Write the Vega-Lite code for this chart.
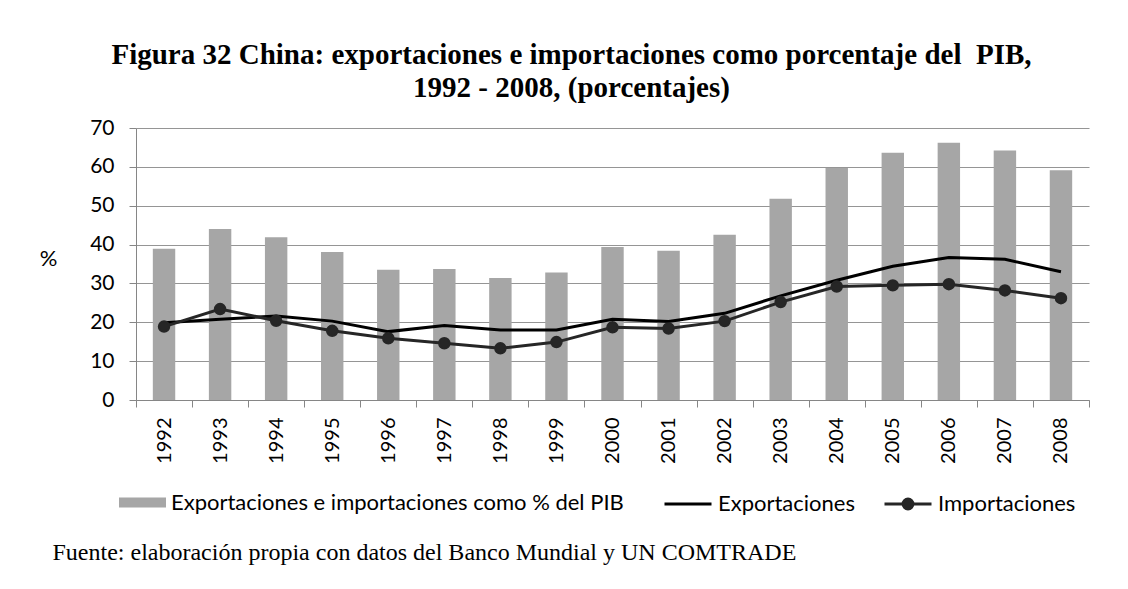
{
  "$schema": "https://vega.github.io/schema/vega-lite/v6.json",
  "width": 953,
  "height": 272,
  "autosize": {"type": "none"},
  "padding": {"left": 136, "top": 128, "right": 39, "bottom": 189},
  "background": "white",
  "title": {
    "text": ["Figura 32 China: exportaciones e importaciones como porcentaje del\u00a0 PIB,", "1992 - 2008, (porcentajes)"],
    "anchor": "middle",
    "dx": -41,
    "offset": 14,
    "font": "Liberation Serif",
    "fontSize": 29,
    "fontWeight": "bold",
    "color": "#000000",
    "lineHeight": 33
  },
  "data": {
    "values": [
      {"year": "1992", "total": 38.9, "exp": 19.9, "imp": 18.9},
      {"year": "1993", "total": 44.0, "exp": 20.8, "imp": 23.4},
      {"year": "1994", "total": 41.9, "exp": 21.6, "imp": 20.4},
      {"year": "1995", "total": 38.1, "exp": 20.3, "imp": 17.8},
      {"year": "1996", "total": 33.5, "exp": 17.6, "imp": 15.9},
      {"year": "1997", "total": 33.7, "exp": 19.2, "imp": 14.6},
      {"year": "1998", "total": 31.4, "exp": 18.0, "imp": 13.3},
      {"year": "1999", "total": 32.8, "exp": 18.0, "imp": 14.9},
      {"year": "2000", "total": 39.4, "exp": 20.8, "imp": 18.7},
      {"year": "2001", "total": 38.4, "exp": 20.2, "imp": 18.4},
      {"year": "2002", "total": 42.5, "exp": 22.3, "imp": 20.3},
      {"year": "2003", "total": 51.8, "exp": 26.8, "imp": 25.2},
      {"year": "2004", "total": 59.7, "exp": 30.8, "imp": 29.2},
      {"year": "2005", "total": 63.6, "exp": 34.4, "imp": 29.5},
      {"year": "2006", "total": 66.2, "exp": 36.7, "imp": 29.8},
      {"year": "2007", "total": 64.2, "exp": 36.2, "imp": 28.2},
      {"year": "2008", "total": 59.1, "exp": 33.0, "imp": 26.2}
    ]
  },
  "encoding": {
    "x": {
      "field": "year",
      "type": "ordinal",
      "scale": {"paddingInner": 0, "paddingOuter": 0},
      "axis": {
        "tickBand": "extent",
        "labelAngle": -90,
        "labelPadding": 10,
        "labelFont": "Lato",
        "labelFontSize": 20,
        "labelColor": "#000000",
        "domainColor": "#868686",
        "tickColor": "#868686",
        "tickSize": 7,
        "grid": false,
        "title": "Fuente: elaboración propia con datos del Banco Mundial y UN COMTRADE",
        "titleX": -84,
        "titleY": 159,
        "titleAlign": "left",
        "titleBaseline": "alphabetic",
        "titleFont": "Liberation Serif",
        "titleFontSize": 24,
        "titleFontWeight": "normal",
        "titleColor": "#000000"
      }
    }
  },
  "layer": [
    {
      "mark": {"type": "bar", "width": {"band": 0.4}},
      "encoding": {
        "y": {
          "field": "total",
          "type": "quantitative",
          "title": "%",
          "scale": {"domain": [0, 70], "nice": false},
          "axis": {"values": [0, 10, 20, 30, 40, 50, 60, 70], "tickCount": 10}
        },
        "fill": {
          "datum": "Exportaciones e importaciones como % del PIB",
          "type": "nominal",
          "scale": {"range": ["#a6a6a6"]},
          "legend": {
            "title": null,
            "orient": "none",
            "legendX": -17,
            "legendY": 351,
            "symbolType": "M-1,-0.21L1,-0.21L1,0.21L-1,0.21Z",
            "symbolSize": 2209,
            "symbolStrokeWidth": 0
          }
        }
      }
    },
    {
      "mark": {"type": "line", "strokeWidth": 3},
      "encoding": {
        "y": {"field": "exp", "type": "quantitative", "title": "%", "axis": {"values": [0, 10, 20, 30, 40, 50, 60, 70], "tickCount": 10}},
        "stroke": {
          "datum": "Exportaciones",
          "type": "nominal",
          "scale": {"range": ["#000000"]},
          "legend": {
            "title": null,
            "orient": "none",
            "legendX": 527,
            "legendY": 351,
            "symbolType": "M-1,0L1,0",
            "symbolSize": 2209,
            "symbolStrokeWidth": 3
          }
        }
      }
    },
    {
      "mark": {"type": "line", "strokeWidth": 3, "point": {"filled": true, "size": 110, "color": "#262626"}},
      "encoding": {
        "y": {"field": "imp", "type": "quantitative", "title": "%", "axis": {"values": [0, 10, 20, 30, 40, 50, 60, 70], "tickCount": 10}},
        "stroke": {
          "datum": "Importaciones",
          "type": "nominal",
          "scale": {"range": ["#262626"]},
          "legend": {
            "title": null,
            "orient": "none",
            "legendX": 747,
            "legendY": 351,
            "symbolType": "M-1,0L1,0M-0.21,0A0.21,0.21 0 1,1 0.21,0A0.21,0.21 0 1,1 -0.21,0Z",
            "symbolSize": 2209,
            "symbolStrokeWidth": 3,
            "symbolFillColor": "#262626"
          }
        }
      }
    }
  ],
  "resolve": {"scale": {"stroke": "independent"}, "legend": {"stroke": "independent"}},
  "config": {
    "view": {"stroke": null},
    "axisY": {
      "tickCount": 10,
      "labelFont": "Lato",
      "labelFontSize": 21,
      "labelColor": "#000000",
      "labelPadding": 15,
      "domainColor": "#868686",
      "tickColor": "#868686",
      "tickSize": 7,
      "gridColor": "#959595",
      "gridWidth": 1.2,
      "titleAngle": 0,
      "titleX": -88,
      "titleY": 130,
      "titleAlign": "center",
      "titleBaseline": "middle",
      "titleFont": "Lato",
      "titleFontSize": 22,
      "titleFontWeight": "normal",
      "titleColor": "#000000"
    },
    "legend": {"labelFont": "Lato", "labelFontSize": 22, "labelColor": "#000000", "labelLimit": 1000, "padding": 0, "labelOffset": 5}
  }
}
